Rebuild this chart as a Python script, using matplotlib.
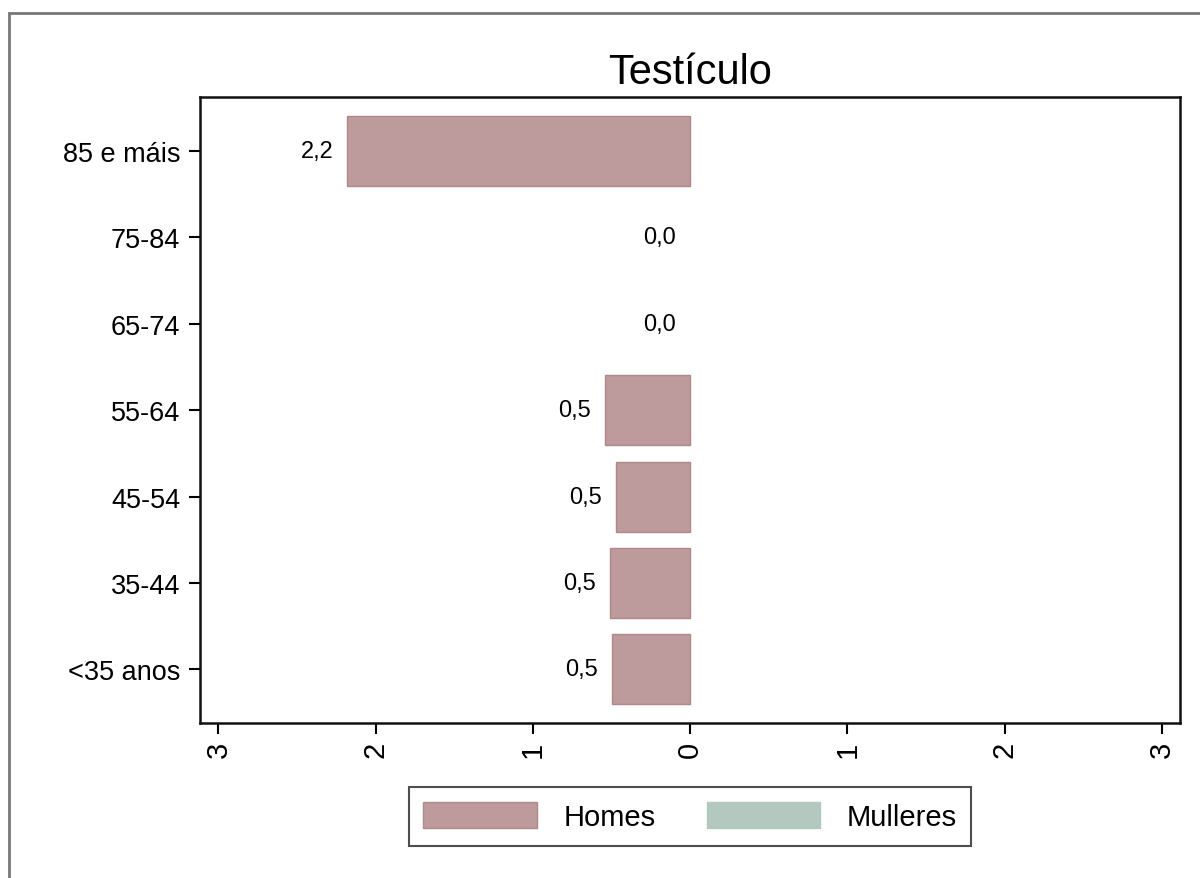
import matplotlib.pyplot as plt
from matplotlib.patches import Rectangle

plt.rcParams['font.family'] = ['Liberation Sans', 'DejaVu Sans']

# Datos (de abaixo cara arriba)
grupos = ["<35 anos", "35-44", "45-54", "55-64", "65-74", "75-84", "85 e máis"]
homes = [0.50, 0.51, 0.47, 0.54, 0.0, 0.0, 2.18]
mulleres = [0.0, 0.0, 0.0, 0.0, 0.0, 0.0, 0.0]
xticks_vals = [-3, -2, -1, 0, 1, 2, 3]
titulo = "Testículo"

cor_homes = "#bd9a9b"
cor_mulleres = "#b3c8bf"

fig = plt.figure(figsize=(12, 8.79), dpi=100)

# Marco exterior (só se ven os bordes superior e esquerdo)
fig.patches.append(Rectangle((9 / 1200, -0.05), 1.2, 1 - 14 / 879 + 0.05,
                             transform=fig.transFigure, fill=False,
                             edgecolor="#777777", linewidth=2))

ax = fig.add_axes([0.1663, 0.1763, 0.9833 - 0.1663, 0.8889 - 0.1763])

y = list(range(len(grupos)))
# sen bordo nas barras de valor cero
ax.barh(y, [-v for v in homes], height=0.81, color=cor_homes,
        edgecolor="#b08889", linewidth=[1 if v > 0 else 0 for v in homes],
        label="Homes")
ax.barh(y, mulleres, height=0.81, color=cor_mulleres,
        edgecolor=cor_mulleres, linewidth=[1 if v > 0 else 0 for v in mulleres],
        label="Mulleres")

# Etiquetas de valores
for yi, v in zip(y, homes):
    ax.annotate(f"{v:.1f}".replace(".", ","), xy=(-v, yi),
                xytext=(-10, 0), textcoords="offset points",
                ha="right", va="center", fontsize=17)

ax.set_xlim(-3.12, 3.115)
ax.set_ylim(-0.62, 6.63)
ax.set_yticks(y)
ax.set_yticklabels(grupos, fontsize=19.5)
ax.set_xticks(xticks_vals)
ax.set_xticklabels([str(abs(v)) for v in xticks_vals], fontsize=21, rotation=90)
ax.tick_params(axis="y", length=8, width=1.5, pad=6)
ax.tick_params(axis="x", length=8, width=1.5, pad=5)
for s in ax.spines.values():
    s.set_linewidth(1.8)
    s.set_color("#111111")

ax.set_title(titulo, fontsize=30, pad=10)

leg = ax.legend(loc="center", bbox_to_anchor=(690 / 1200, 1 - 817.5 / 879),
                bbox_transform=fig.transFigure, ncol=2, fontsize=21,
                frameon=True, fancybox=False, handlelength=3.9,
                handleheight=1.0, columnspacing=1.75, handletextpad=0.9,
                borderpad=0.5, borderaxespad=0)
leg.get_frame().set_edgecolor("#222222")
leg.get_frame().set_linewidth(1.5)
for h in leg.legend_handles:
    h.set_linewidth(1)

fig.savefig("out.png", dpi=100)
plt.close()
